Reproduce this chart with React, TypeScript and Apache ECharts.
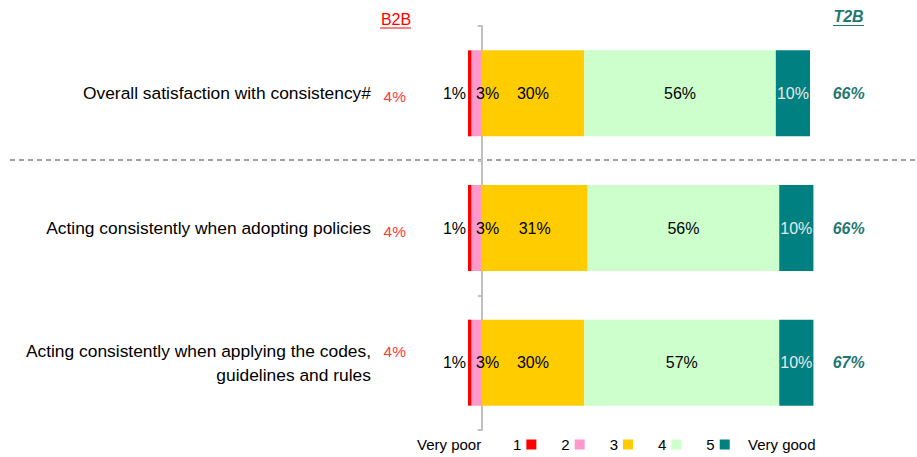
import React, { useEffect, useRef } from 'react';
import * as echarts from 'echarts';

const categories = [
  'Overall satisfaction with consistency#',
  'Acting consistently when adopting policies',
  'Acting consistently when applying the codes,\nguidelines and rules',
];
const legendNames = ['1', '2', '3', '4', '5'];
const score1 = [1, 1, 1];
const score2 = [3, 3, 3];
const score3 = [30, 31, 30];
const score4 = [56, 56, 57];
const score5 = [10, 10, 10];
const b2b = [4, 4, 4];
const t2b = [66, 66, 67];

const FONT = '"Liberation Sans", Arial, sans-serif';
const COLORS = ['#ff0000', '#ff99cc', '#ffcc00', '#ccffcc', '#008080'];

export default function App() {
  const ref = useRef<HTMLDivElement>(null);
  useEffect(() => {
    document.body.style.margin = '0';
    const chart = echarts.init(ref.current!, null, { renderer: 'svg' });
    const pct = (p: any) => Math.abs(p.value) + '%';
    const baseLabel = { show: true, fontSize: 16, fontFamily: FONT, color: '#000' };
    const mk = (name: string, data: number[], color: string, label: any) => ({
      name,
      type: 'bar',
      stack: 'total',
      barWidth: 86,
      data,
      itemStyle: { color },
      label: { ...baseLabel, formatter: pct, ...label },
      emphasis: { disabled: true },
    });
    const b2bRich = { fontSize: 15.5, fontFamily: FONT, color: '#ff3b3b' };
    const option: any = {
      animation: false,
      grid: { left: 468, right: 93.3, top: 26, bottom: 27, containLabel: false },
      xAxis: { type: 'value', min: -4, max: 100, show: false },
      yAxis: [
        {
          type: 'category',
          data: categories,
          inverse: true,
          axisLine: { show: true, onZero: true, lineStyle: { color: '#c0c0c0', width: 2 } },
          axisTick: { show: true, length: 4, lineStyle: { color: '#c0c0c0', width: 2 } },
          axisLabel: { margin: 97, fontSize: 17.4, fontFamily: FONT, color: '#000', lineHeight: 24, align: 'right' },
        },
        {
          type: 'category',
          data: categories,
          inverse: true,
          position: 'left',
          axisLine: { show: false, onZero: false },
          axisTick: { show: false },
          axisLabel: {
            margin: 62,
            fontSize: 15.5,
            fontFamily: FONT,
            color: '#ff3b3b',
            formatter: (_v: string, i: number) =>
              categories[i].includes('\n') ? '{up|' + b2b[i] + '%}' : '{dn|' + b2b[i] + '%}',
            rich: {
              up: { ...b2bRich, padding: [0, 0, 22, 0] },
              dn: { ...b2bRich, padding: [6, 0, 0, 0] },
            },
          },
        },
        {
          type: 'category',
          data: categories,
          inverse: true,
          position: 'right',
          axisLine: { show: false, onZero: false },
          axisTick: { show: false },
          axisLabel: {
            margin: 9,
            fontSize: 16,
            fontFamily: FONT,
            fontWeight: 'bold',
            fontStyle: 'italic',
            color: '#1f7872',
            formatter: (_v: string, i: number) => t2b[i] + '%',
          },
        },
      ],
      legend: {
        data: legendNames,
        left: 513,
        top: 437,
        padding: 0,
        align: 'right',
        itemWidth: 10,
        itemHeight: 10,
        itemGap: 25,
        icon: 'rect',
        textStyle: { fontSize: 15, fontFamily: FONT, color: '#000' },
        selectedMode: false,
      },
      series: [
        mk(legendNames[1], score2.map((v) => -v), COLORS[1], { position: 'inside', offset: [11, 0] }),
        mk(legendNames[0], score1.map((v) => -v), COLORS[0], { position: 'left', distance: 2 }),
        mk(legendNames[2], score3, COLORS[2], { position: 'inside' }),
        mk(legendNames[3], score4, COLORS[3], { position: 'inside' }),
        mk(legendNames[4], score5, COLORS[4], { position: 'inside', color: '#e8e8e8' }),
      ],
      graphic: [
        { type: 'line', shape: { x1: 10, y1: 160, x2: 917, y2: 160 }, style: { stroke: '#a0a0a0', lineWidth: 2, lineDash: [5, 4] }, z: 0 },
        { type: 'text', x: 396, y: 19, style: { text: 'B2B', fill: '#ff0000', font: '16px ' + FONT, textAlign: 'center', textVerticalAlign: 'middle' } },
        { type: 'line', shape: { x1: 380, y1: 28, x2: 411, y2: 28 }, style: { stroke: '#ff0000', lineWidth: 1 } },
        { type: 'text', x: 848.5, y: 16, style: { text: 'T2B', fill: '#1f7872', font: 'italic bold 16px ' + FONT, textAlign: 'center', textVerticalAlign: 'middle' } },
        { type: 'line', shape: { x1: 833, y1: 25.5, x2: 864, y2: 25.5 }, style: { stroke: '#1f7872', lineWidth: 1 } },
        { type: 'text', x: 417, y: 444, style: { text: 'Very poor', fill: '#000', font: '15px ' + FONT, textVerticalAlign: 'middle' } },
        { type: 'text', x: 748, y: 444, style: { text: 'Very good', fill: '#000', font: '15px ' + FONT, textVerticalAlign: 'middle' } },
      ],
    };
    chart.setOption(option);
    return () => chart.dispose();
  }, []);
  return <div ref={ref} style={{ width: 917, height: 457 }} />;
}
